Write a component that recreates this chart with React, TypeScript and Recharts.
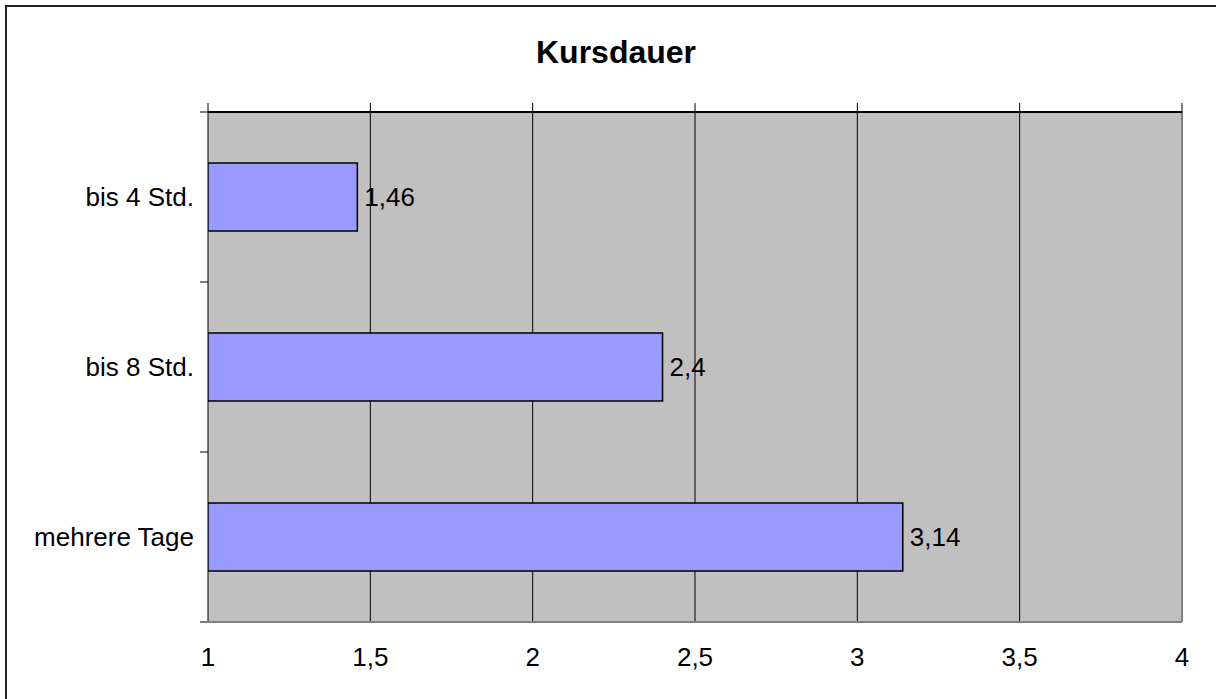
import { Bar, BarChart, CartesianGrid, LabelList, ReferenceLine, XAxis, YAxis } from "recharts";

const FONT = "'Liberation Sans', Arial, sans-serif";
const BAR_FILL = "#9999ff";
const PLOT_BG = "#c0c0c0";
const BORDER_GRAY = "#808080";

const categories = ["bis 4 Std.", "bis 8 Std.", "mehrere Tage"];
const values = [1.46, 2.4, 3.14];
const xTicks = [1, 1.5, 2, 2.5, 3, 3.5, 4];

const data = categories.map((name, i) => ({ name, value: values[i] }));

// deutsches Dezimalkomma
const comma = (v: number | string) => String(v).replace(".", ",");
const blank = () => "";

// Kategorie-Beschriftung + kurze Striche an den Bandgrenzen (wie Excel)
function CategoryTick(props: any) {
  const { x, y, payload, index } = props;
  const half = payload?.offset ?? 85;
  const x1 = x + 6;
  const x2 = x + 14;
  return (
    <g>
      <text x={x} y={y} textAnchor="end" dominantBaseline="central" fontSize={26} fill="#000" fontFamily={FONT}>
        {payload.value}
      </text>
      <line x1={x1} x2={x2} y1={y - half} y2={y - half} stroke="#000" />
      {index === categories.length - 1 ? (
        <line x1={x1} x2={x2} y1={y + half} y2={y + half} stroke={BORDER_GRAY} strokeWidth={2} />
      ) : null}
    </g>
  );
}

export default function App() {
  return (
    <div
      style={{
        position: "absolute",
        left: 0,
        top: 0,
        width: 1216,
        height: 699,
        overflow: "hidden",
        background: "#fff",
        fontFamily: FONT,
      }}
    >
      <div
        style={{
          position: "absolute",
          left: 5,
          top: 5,
          width: 1230,
          height: 720,
          border: "2px solid #222",
          boxSizing: "border-box",
        }}
      />
      <div
        style={{
          position: "absolute",
          left: 0,
          top: 34,
          width: 1232,
          textAlign: "center",
          fontSize: 32,
          fontWeight: "bold",
          color: "#000",
        }}
      >
        Kursdauer
      </div>
      <div style={{ position: "absolute", left: 0, top: 0 }}>
        <BarChart
          width={1216}
          height={699}
          data={data}
          layout="vertical"
          margin={{ top: 103, right: 34, left: 0, bottom: 27 }}
          barSize={68}
        >
          <CartesianGrid stroke="#000" fill={PLOT_BG} fillOpacity={1} horizontal={false} />
          <XAxis
            type="number"
            domain={[1, 4]}
            ticks={xTicks}
            allowDataOverflow
            height={50}
            tickSize={0}
            tickMargin={26}
            tickFormatter={comma}
            tick={{ fontSize: 26, fill: "#000", fontFamily: FONT }}
            axisLine={{ stroke: BORDER_GRAY, strokeWidth: 2 }}
          />
          <XAxis
            xAxisId="top"
            orientation="top"
            type="number"
            domain={[1, 4]}
            ticks={xTicks}
            allowDataOverflow
            height={9}
            tickSize={9}
            tickFormatter={blank}
            tick={{ fontSize: 1 }}
            tickLine={{ stroke: "#000" }}
            axisLine={{ stroke: "#000", strokeWidth: 2 }}
          />
          <YAxis
            type="category"
            dataKey="name"
            width={208}
            tickSize={0}
            tickMargin={14}
            tickLine={false}
            axisLine={false}
            tick={<CategoryTick />}
          />
          <ReferenceLine x={4} stroke={BORDER_GRAY} strokeWidth={2} />
          <Bar dataKey="value" fill={BAR_FILL} stroke="#000" strokeWidth={1.5} isAnimationActive={false}>
            <LabelList
              dataKey="value"
              position="right"
              offset={7}
              formatter={comma}
              style={{ fontSize: 26, fill: "#000", fontFamily: FONT }}
            />
          </Bar>
        </BarChart>
      </div>
    </div>
  );
}
